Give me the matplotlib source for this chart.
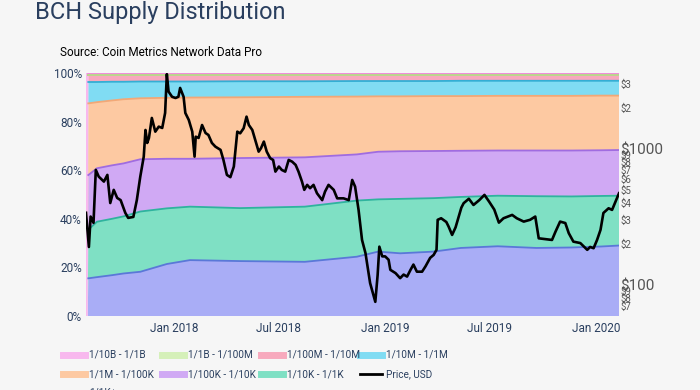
import matplotlib
matplotlib.use("Agg")
import matplotlib.pyplot as plt
import matplotlib.dates as mdates
from matplotlib.lines import Line2D
from matplotlib.ticker import FixedLocator, NullLocator
import numpy as np
import pandas as pd

plt.rcParams['font.family'] = ['Roboto', 'DejaVu Sans']

# share of supply (%) held by each address band, bottom band first
band_dates = ['2017-08-01', '2017-08-04', '2017-08-05', '2017-08-20', '2017-09-15', '2017-10-05',
              '2017-11-03', '2017-12-19', '2018-01-28', '2018-04-25', '2018-08-15', '2018-11-13',
              '2018-12-20', '2019-01-27', '2019-03-26', '2019-05-12', '2019-07-15', '2019-09-20',
              '2019-11-20', '2020-01-10', '2020-02-10']
sply_1k = [0, 0, 15.5, 16.0, 16.8, 17.5, 18.2, 21.4, 23.0, 22.6, 22.3, 24.4, 26.5, 25.8, 26.5,
           28.0, 28.7, 28.0, 28.2, 28.6, 29.0]
sply_10k = [0, 0, 20.0, 22.8, 23.2, 23.5, 24.8, 22.9, 22.0, 21.8, 22.7, 23.1, 21.5, 22.4, 22.0,
            21.0, 20.8, 21.3, 21.0, 20.8, 20.5]
sply_100k = [0, 0, 22.5, 22.0, 22.0, 21.8, 21.5, 20.4, 19.7, 20.6, 20.3, 19.0, 19.6, 19.6, 19.4,
             19.0, 18.6, 18.8, 18.9, 18.8, 18.8]
sply_1m = [0, 0, 29.5, 27.2, 26.7, 26.4, 25.1, 25.1, 25.2, 25.0, 24.9, 23.8, 22.8, 22.6, 22.6,
           22.5, 22.5, 22.5, 22.5, 22.5, 22.4]
sply_10m = [0, 0, 8.8, 8.3, 7.7, 7.2, 6.9, 6.7, 6.6, 6.6, 6.4, 6.4, 6.3, 6.3, 6.2, 6.3, 6.2, 6.2,
            6.2, 6.1, 6.1]
sply_100m = [0, 0, 2.8, 2.8, 2.7, 2.7, 2.6, 2.6, 2.6, 2.5, 2.5, 2.4, 2.4, 2.4, 2.4, 2.3, 2.3, 2.3,
             2.3, 2.3, 2.3]
sply_1b = [0, 0, 0.15, 0.15, 0.15, 0.15, 0.15, 0.15, 0.15, 0.15, 0.15, 0.15, 0.15, 0.15, 0.15,
           0.15, 0.15, 0.15, 0.15, 0.15, 0.15]
sply_10b = [100, 100, 0.75, 0.75, 0.75, 0.75, 0.75, 0.75, 0.75, 0.75, 0.75, 0.75, 0.75, 0.75, 0.75,
            0.75, 0.75, 0.75, 0.75, 0.75, 0.75]

band_labels = ['1/1K+', '1/10K - 1/1K', '1/100K - 1/10K', '1/1M - 1/100K', '1/10M - 1/1M',
               '1/100M - 1/10M', '1/1B - 1/100M', '1/10B - 1/1B']
fill_colors = ['#a9adf6', '#7fe0c4', '#d0a9f4', '#fdc9a2', '#80dcf3', '#f7a9bd', '#d5f0b9', '#f8b8ee']
line_colors = ['#5a78d8', '#2fb39e', '#a06ce0', '#f2a877', '#34aed4', '#e9677f', '#b7e08e', '#f08ad8']

# BCH price, USD
price_dates = ['2017-08-01', '2017-08-06', '2017-08-09', '2017-08-14', '2017-08-18', '2017-08-23',
               '2017-09-01', '2017-09-07', '2017-09-12', '2017-09-18', '2017-09-24', '2017-09-30',
               '2017-10-08', '2017-10-13', '2017-10-22', '2017-10-28', '2017-11-03', '2017-11-09',
               '2017-11-12', '2017-11-15', '2017-11-18', '2017-11-23', '2017-11-29', '2017-12-05',
               '2017-12-11', '2017-12-16', '2017-12-19', '2017-12-22', '2017-12-28', '2018-01-03',
               '2018-01-08', '2018-01-11', '2018-01-17', '2018-01-20', '2018-01-26', '2018-02-01',
               '2018-02-05', '2018-02-07', '2018-02-12', '2018-02-18', '2018-02-24', '2018-03-01',
               '2018-03-07', '2018-03-13', '2018-03-22', '2018-03-27', '2018-04-02', '2018-04-08',
               '2018-04-14', '2018-04-20', '2018-04-25', '2018-05-01', '2018-05-06', '2018-05-10',
               '2018-05-16', '2018-05-21', '2018-05-27', '2018-05-31', '2018-06-05', '2018-06-10',
               '2018-06-16', '2018-06-21', '2018-06-25', '2018-07-01', '2018-07-06', '2018-07-12',
               '2018-07-18', '2018-07-24', '2018-07-30', '2018-08-04', '2018-08-10', '2018-08-14',
               '2018-08-19', '2018-08-24', '2018-08-30', '2018-09-05', '2018-09-14', '2018-09-19',
               '2018-09-25', '2018-10-04', '2018-10-10', '2018-10-21', '2018-10-30', '2018-11-05',
               '2018-11-10', '2018-11-16', '2018-11-22', '2018-11-28', '2018-12-06', '2018-12-15',
               '2018-12-19', '2018-12-22', '2018-12-27', '2019-01-01', '2019-01-07', '2019-01-10',
               '2019-01-19', '2019-01-27', '2019-02-02', '2019-02-08', '2019-02-14', '2019-02-19',
               '2019-02-25', '2019-03-06', '2019-03-12', '2019-03-20', '2019-03-26', '2019-03-31',
               '2019-04-02', '2019-04-08', '2019-04-17', '2019-04-21', '2019-04-27', '2019-05-03',
               '2019-05-13', '2019-05-17', '2019-05-26', '2019-06-03', '2019-06-13', '2019-06-22',
               '2019-06-30', '2019-07-09', '2019-07-17', '2019-07-25', '2019-08-09', '2019-08-17',
               '2019-08-29', '2019-09-09', '2019-09-18', '2019-09-24', '2019-10-02', '2019-10-17',
               '2019-10-23', '2019-10-31', '2019-11-09', '2019-11-15', '2019-11-23', '2019-12-05',
               '2019-12-17', '2019-12-22', '2019-12-28', '2020-01-03', '2020-01-09', '2020-01-14',
               '2020-01-23', '2020-01-29', '2020-02-04', '2020-02-10']
price_usd = [339, 190, 318, 286, 701, 626,
             575, 644, 400, 500, 436, 420,
             339, 311, 316, 420, 626, 878,
             1379, 1107, 1205, 1690, 1340, 1459,
             1427, 1840, 3550, 2640, 2420, 2370,
             2420, 2810, 2420, 1840, 1634, 1340,
             878, 1230, 1205, 1500, 1310, 1267,
             1107, 1040, 984, 830, 644, 620,
             742, 1340, 1303, 1420, 1728, 1500,
             1379, 1165, 955, 1012, 1133, 955,
             854, 830, 681, 742, 701, 681,
             830, 806, 763, 681, 575, 500,
             544, 514, 544, 472, 420, 486,
             544, 500, 433, 433, 420, 591,
             528, 356, 214, 171, 103, 75,
             118, 191, 162, 162, 153, 129,
             122, 112, 119, 115, 129, 141,
             125, 125, 137, 158, 166, 181,
             301, 309, 290, 268, 233, 265,
             370, 399, 430, 387, 420, 459,
             410, 358, 287, 309, 327, 309,
             292, 301, 318, 220, 218, 214,
             246, 292, 285, 240, 208, 203,
             181, 190, 186, 214, 254, 338,
             366, 356, 410, 472]

right_ticks = [3000, 2000, 1000, 900, 800, 700, 600, 500, 400, 300, 200, 100, 90, 80, 70]
right_labels = ['$3', '$2', '$1000', '$9', '$8', '$7', '$6', '$5', '$4', '$3', '$2', '$100', '$9', '$8', '$7']

bd = pd.to_datetime(band_dates)
pdates = pd.to_datetime(price_dates)
bands = np.array([sply_1k, sply_10k, sply_100k, sply_1m, sply_10m, sply_100m, sply_1b, sply_10b])

text_col = '#2a3f5f'
bg = '#f6f6f6'

fig = plt.figure(figsize=(7, 3.9), dpi=100, facecolor=bg)
ax = fig.add_axes([86 / 700, 1 - 316 / 390, 533 / 700, 243 / 390])
ax.set_facecolor(bg)

ax.stackplot(bd, bands, colors=fill_colors, linewidth=0)
tops = np.cumsum(bands, axis=0)
for i in range(len(bands)):
    ax.plot(bd[2:], tops[i][2:], color=line_colors[i], lw=1.3)

ax.set_xlim(pd.Timestamp('2017-08-01'), pd.Timestamp('2020-02-10'))
ax.set_ylim(0, 100)
ax.set_yticks([0, 20, 40, 60, 80, 100])
ax.set_yticklabels(['0%', '20%', '40%', '60%', '80%', '100%'])
ax.xaxis.set_major_locator(mdates.MonthLocator(bymonth=[1, 7]))
ax.xaxis.set_major_formatter(mdates.DateFormatter('%b %Y'))
ax.tick_params(axis='both', length=0, labelsize=8.5, labelcolor=text_col)
ax.tick_params(axis='x', pad=4)
ax.tick_params(axis='y', pad=3)
for s in ax.spines.values():
    s.set_visible(False)

ax2 = ax.twinx()
ax2.plot(pdates, price_usd, color='black', lw=1.9)
ax2.set_yscale('log')
ax2.set_ylim(59, 3620)
ax2.yaxis.set_major_locator(FixedLocator(right_ticks))
ax2.yaxis.set_minor_locator(NullLocator())
ax2.set_yticklabels(right_labels)
ax2.tick_params(axis='y', length=0, pad=1, labelcolor='#555555')
for lab, v in zip(ax2.get_yticklabels(), right_ticks):
    lab.set_fontsize(11 if v in (1000, 100) else 7)
for s in ax2.spines.values():
    s.set_visible(False)

fig.text(35 / 700, 1 - 13 / 390, 'BCH Supply Distribution', fontsize=17, color=text_col,
         va='center', ha='left')
fig.text(60 / 700, 1 - 52 / 390, 'Source: Coin Metrics Network Data Pro', fontsize=8.5,
         color='black', va='center', ha='left')

# legend laid out like the original (4 columns)
legend_items = [(band_labels[7], fill_colors[7]), (band_labels[6], fill_colors[6]),
                (band_labels[5], fill_colors[5]), (band_labels[4], fill_colors[4]),
                (band_labels[3], fill_colors[3]), (band_labels[2], fill_colors[2]),
                (band_labels[1], fill_colors[1]), ('Price, USD', 'black'),
                (band_labels[0], fill_colors[0])]
col_x = [63, 162, 261, 360]
row_y = [355, 374, 393]
for k, (lab, col) in enumerate(legend_items):
    x0 = col_x[k % 4]
    y0 = 1 - row_y[k // 4] / 390
    lw = 2 if lab == 'Price, USD' else 5
    fig.add_artist(Line2D([x0 / 700, (x0 + 22) / 700], [y0, y0], color=col, lw=lw,
                          transform=fig.transFigure))
    fig.text((x0 + 26) / 700, y0, lab, fontsize=7.2, color=text_col, va='center', ha='left')

fig.savefig('out.png', dpi=100, facecolor=bg)
